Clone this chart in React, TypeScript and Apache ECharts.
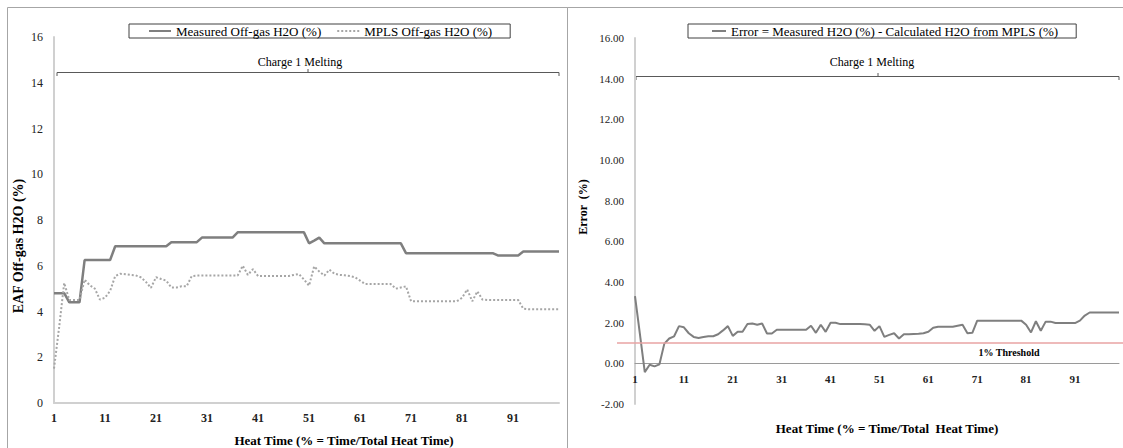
import React, { useEffect, useRef } from "react";
import * as echarts from "echarts";

const FONT = '"Liberation Serif", "Times New Roman", serif';

// x categories: heat time % (1..100)
const categories: string[] = Array.from({ length: 100 }, (_, i) => String(i + 1));

const measuredName = "Measured Off-gas H2O (%)";
const mplsName = "MPLS Off-gas H2O (%)";
const errorName = "Error = Measured H2O (%) - Calculated H2O from MPLS (%)";

const measured: number[] = [
  4.8, 4.8, 4.8, 4.4, 4.4, 4.4, 6.25, 6.25, 6.25, 6.25,
  6.25, 6.25, 6.85, 6.85, 6.85, 6.85, 6.85, 6.85, 6.85, 6.85,
  6.85, 6.85, 6.85, 7.03, 7.03, 7.03, 7.03, 7.03, 7.03, 7.23,
  7.23, 7.23, 7.23, 7.23, 7.23, 7.23, 7.46, 7.46, 7.46, 7.46,
  7.46, 7.46, 7.46, 7.46, 7.46, 7.46, 7.46, 7.46, 7.46, 7.46,
  6.98, 7.1, 7.23, 6.98, 6.98, 6.98, 6.98, 6.98, 6.98, 6.98,
  6.98, 6.98, 6.98, 6.98, 6.98, 6.98, 6.98, 6.98, 6.98, 6.55,
  6.55, 6.55, 6.55, 6.55, 6.55, 6.55, 6.55, 6.55, 6.55, 6.55,
  6.55, 6.55, 6.55, 6.55, 6.55, 6.55, 6.55, 6.45, 6.45, 6.45,
  6.45, 6.45, 6.62, 6.62, 6.62, 6.62, 6.62, 6.62, 6.62, 6.62,
];

const mpls: number[] = [
  1.5, 3.3, 5.25, 4.5, 4.5, 4.5, 5.39, 5.15, 5.0, 4.52,
  4.6, 4.9, 5.55, 5.65, 5.63, 5.6, 5.58, 5.5, 5.3, 5.03,
  5.5, 5.42, 5.35, 5.05, 5.05, 5.1, 5.1, 5.55, 5.57, 5.57,
  5.57, 5.57, 5.57, 5.57, 5.57, 5.57, 5.57, 6.0, 5.6, 5.85,
  5.55, 5.55, 5.55, 5.55, 5.55, 5.55, 5.55, 5.6, 5.64, 5.4,
  5.13, 5.97, 5.75, 5.57, 5.83, 5.65, 5.6, 5.58, 5.55, 5.5,
  5.35, 5.2, 5.2, 5.2, 5.2, 5.2, 5.2, 5.0, 5.05, 5.1,
  4.45, 4.45, 4.45, 4.45, 4.45, 4.45, 4.45, 4.45, 4.45, 4.45,
  4.6, 4.96, 4.45, 4.88, 4.52, 4.5, 4.5, 4.5, 4.5, 4.5,
  4.5, 4.5, 4.12, 4.1, 4.1, 4.1, 4.1, 4.1, 4.1, 4.1,
];

const errorVals: number[] = [
  3.3, 1.45, -0.43, -0.07, -0.15, -0.05, 0.97, 1.22, 1.33, 1.83,
  1.77, 1.48, 1.3, 1.25, 1.3, 1.33, 1.33, 1.43, 1.62, 1.83,
  1.35, 1.55, 1.55, 1.93, 1.96, 1.9, 1.96, 1.47, 1.47, 1.65,
  1.65, 1.65, 1.65, 1.65, 1.65, 1.65, 1.85, 1.5, 1.9, 1.55,
  2.0, 2.0, 1.93, 1.93, 1.93, 1.93, 1.93, 1.92, 1.9, 1.6,
  1.83, 1.3, 1.4, 1.48, 1.22, 1.43, 1.43, 1.44, 1.45, 1.48,
  1.55, 1.75, 1.8, 1.8, 1.8, 1.8, 1.85, 1.9, 1.48, 1.5,
  2.1, 2.1, 2.1, 2.1, 2.1, 2.1, 2.1, 2.1, 2.1, 2.1,
  1.9, 1.52, 2.07, 1.6, 2.05, 2.05, 1.98, 1.98, 1.98, 1.98,
  1.98, 2.1, 2.35, 2.5, 2.5, 2.5, 2.5, 2.5, 2.5, 2.5,
];

const thresholdValue = 1;
const thresholdSpan: number[] = [0, 1];

const DOTTED_ICON =
  "path://M0 0h2v2H0z M4 0h2v2H4z M8 0h2v2H8z M12 0h2v2h-2z M16 0h2v2h-2z M20 0h2v2h-2z";

export default function App() {
  const ref = useRef<HTMLDivElement>(null);

  useEffect(() => {
    if (!ref.current) return;
    const chart = echarts.init(ref.current, undefined, { renderer: "svg" });

    const option: any = {
      animation: false,
      backgroundColor: "#ffffff",
      textStyle: { fontFamily: FONT },
      grid: [
        { left: 54, top: 37, width: 505, height: 366 },
        { left: 635, top: 38, width: 484, height: 366 },
        { left: 617, top: 38, width: 506, height: 366 },
      ],
      legend: [
        {
          data: [
            { name: measuredName, icon: "rect" },
            { name: mplsName, icon: DOTTED_ICON },
          ],
          left: 129,
          top: 24,
          orient: "horizontal",
          borderColor: "#404040",
          borderWidth: 1,
          padding: [0, 18, 0, 20],
          itemGap: 16,
          itemWidth: 22,
          itemHeight: 2,
          textStyle: { fontFamily: FONT, fontSize: 13, color: "#000", lineHeight: 14 },
        },
        {
          data: [{ name: errorName, icon: "rect" }],
          left: 688,
          top: 24,
          borderColor: "#404040",
          borderWidth: 1,
          padding: [0, 18, 0, 24],
          itemWidth: 14,
          itemHeight: 2,
          textStyle: { fontFamily: FONT, fontSize: 13, color: "#000", lineHeight: 14 },
        },
      ],
      xAxis: [
        {
          gridIndex: 0,
          type: "category",
          data: categories,
          boundaryGap: false,
          axisLine: { lineStyle: { color: "#d0d0d0", width: 2 } },
          axisTick: { show: false },
          splitLine: { show: false },
          axisLabel: {
            interval: 9,
            color: "#222",
            fontSize: 12,
            fontWeight: "bold",
            fontFamily: FONT,
            margin: 9,
          },
        },
        {
          gridIndex: 1,
          type: "category",
          data: categories,
          boundaryGap: false,
          position: "bottom",
          offset: -40.7,
          axisLine: { onZero: false, lineStyle: { color: "#9a9a9a", width: 1 } },
          axisTick: { show: false },
          splitLine: { show: false },
          axisLabel: {
            interval: 9,
            color: "#222",
            fontSize: 11,
            fontWeight: "bold",
            fontFamily: FONT,
            margin: 10,
          },
        },
        { gridIndex: 2, type: "value", min: 0, max: 1, show: false },
      ],
      yAxis: [
        {
          gridIndex: 0,
          type: "value",
          min: 0,
          max: 16,
          interval: 2,
          axisLine: { show: true, lineStyle: { color: "#d0d0d0", width: 2 } },
          axisTick: { show: false },
          splitLine: { show: false },
          axisLabel: { color: "#222", fontSize: 12, fontFamily: FONT, margin: 11 },
        },
        {
          gridIndex: 1,
          type: "value",
          min: -2,
          max: 16,
          interval: 2,
          axisLine: { show: true, lineStyle: { color: "#d0d0d0", width: 2 } },
          axisTick: { show: false },
          splitLine: { show: false },
          axisLabel: {
            color: "#222",
            fontSize: 11,
            fontFamily: FONT,
            margin: 11,
            formatter: (v: number) => v.toFixed(2),
          },
        },
        { gridIndex: 2, type: "value", min: -2, max: 16, show: false },
      ],
      series: [
        {
          name: measuredName,
          type: "line",
          xAxisIndex: 0,
          yAxisIndex: 0,
          data: measured,
          symbol: "none",
          itemStyle: { color: "#7f7f7f" },
          lineStyle: { color: "#7f7f7f", width: 2.5 },
        },
        {
          name: mplsName,
          type: "line",
          xAxisIndex: 0,
          yAxisIndex: 0,
          data: mpls,
          symbol: "none",
          itemStyle: { color: "#a6a6a6" },
          lineStyle: { color: "#a6a6a6", width: 2, type: "dotted" },
        },
        {
          name: errorName,
          type: "line",
          xAxisIndex: 1,
          yAxisIndex: 1,
          data: errorVals,
          symbol: "none",
          itemStyle: { color: "#7f7f7f" },
          lineStyle: { color: "#7f7f7f", width: 2 },
        },
        {
          name: "1% Threshold",
          type: "line",
          xAxisIndex: 2,
          yAxisIndex: 2,
          data: thresholdSpan.map((x) => [x, thresholdValue]),
          symbol: "none",
          silent: true,
          itemStyle: { color: "#e8a3a3" },
          lineStyle: { color: "#e8a3a3", width: 1.5 },
        },
      ],
      graphic: [
        {
          type: "rect",
          shape: { x: 7.5, y: 7.5, width: 560, height: 460 },
          style: { fill: "none", stroke: "#a6a6a6", lineWidth: 1 },
          silent: true,
        },
        {
          type: "rect",
          shape: { x: 567.5, y: 7.5, width: 600, height: 460 },
          style: { fill: "none", stroke: "#a6a6a6", lineWidth: 1 },
          silent: true,
        },
        // left bracket
        {
          type: "polyline",
          shape: { points: [[57, 76], [57, 72.5], [559, 72.5], [559, 76]] },
          style: { fill: "none", stroke: "#595959", lineWidth: 1 },
          silent: true,
        },
        {
          type: "line",
          shape: { x1: 308, y1: 72.5, x2: 308, y2: 69 },
          style: { stroke: "#595959", lineWidth: 1 },
          silent: true,
        },
        {
          type: "text",
          x: 300,
          y: 62,
          style: {
            text: "Charge 1 Melting",
            fill: "#000",
            fontFamily: FONT,
            fontSize: 12,
            align: "center",
            verticalAlign: "middle",
          },
          silent: true,
        },
        // right bracket
        {
          type: "polyline",
          shape: { points: [[636, 80], [636, 76.5], [1119, 76.5], [1119, 80]] },
          style: { fill: "none", stroke: "#595959", lineWidth: 1 },
          silent: true,
        },
        {
          type: "line",
          shape: { x1: 878, y1: 76.5, x2: 878, y2: 73 },
          style: { stroke: "#595959", lineWidth: 1 },
          silent: true,
        },
        {
          type: "text",
          x: 872,
          y: 62,
          style: {
            text: "Charge 1 Melting",
            fill: "#000",
            fontFamily: FONT,
            fontSize: 12,
            align: "center",
            verticalAlign: "middle",
          },
          silent: true,
        },
        // axis titles
        {
          type: "text",
          x: 18,
          y: 246,
          rotation: Math.PI / 2,
          style: {
            text: "EAF Off-gas H2O (%)",
            fill: "#000",
            fontFamily: FONT,
            fontSize: 14,
            fontWeight: "bold",
            align: "center",
            verticalAlign: "middle",
          },
          silent: true,
        },
        {
          type: "text",
          x: 344,
          y: 440,
          style: {
            text: "Heat Time (% = Time/Total Heat Time)",
            fill: "#000",
            fontFamily: FONT,
            fontSize: 13,
            fontWeight: "bold",
            align: "center",
            verticalAlign: "middle",
          },
          silent: true,
        },
        {
          type: "text",
          x: 583,
          y: 207,
          rotation: Math.PI / 2,
          style: {
            text: "Error  (%)",
            fill: "#000",
            fontFamily: FONT,
            fontSize: 12,
            fontWeight: "bold",
            align: "center",
            verticalAlign: "middle",
          },
          silent: true,
        },
        {
          type: "text",
          x: 887,
          y: 428,
          style: {
            text: "Heat Time (% = Time/Total  Heat Time)",
            fill: "#000",
            fontFamily: FONT,
            fontSize: 13,
            fontWeight: "bold",
            align: "center",
            verticalAlign: "middle",
          },
          silent: true,
        },
        {
          type: "text",
          x: 1009,
          y: 352,
          style: {
            text: "1% Threshold",
            fill: "#000",
            fontFamily: FONT,
            fontSize: 10,
            fontWeight: "bold",
            align: "center",
            verticalAlign: "middle",
          },
          silent: true,
        },
      ],
    };

    chart.setOption(option);
    return () => chart.dispose();
  }, []);

  return (
    <div
      ref={ref}
      style={{ position: "absolute", left: 0, top: 0, width: 1123, height: 448, background: "#fff" }}
    />
  );
}
